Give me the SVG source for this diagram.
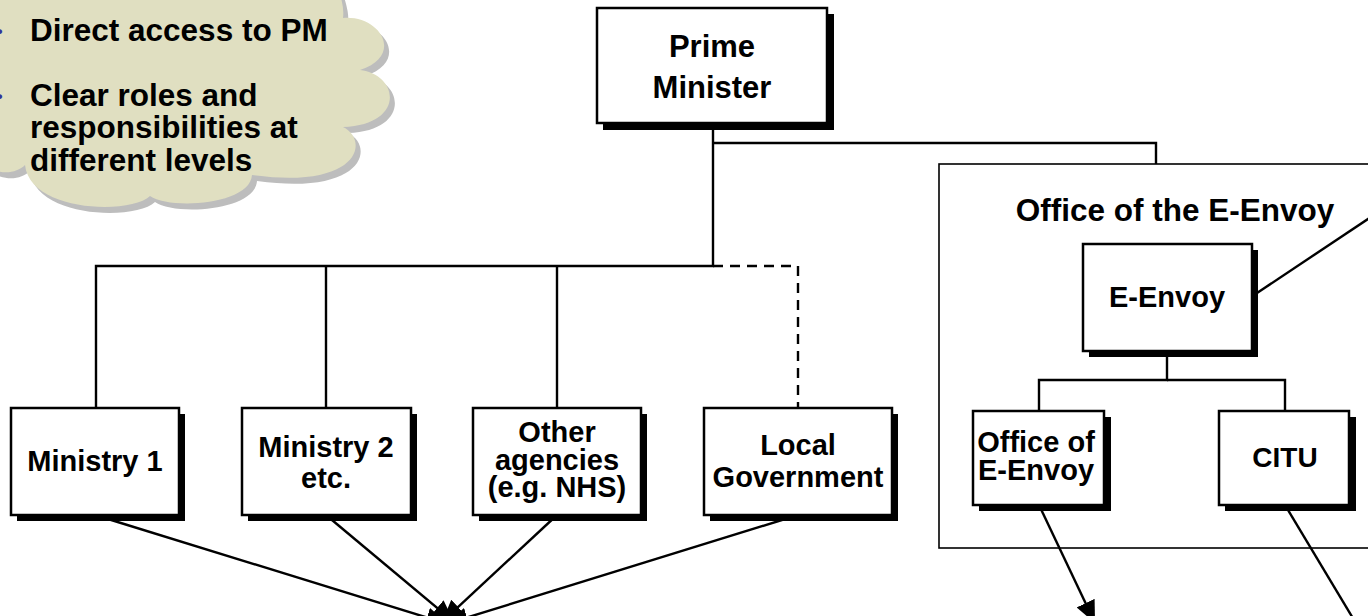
<svg xmlns="http://www.w3.org/2000/svg" width="1368" height="616" viewBox="0 0 1368 616">
<defs>
<style>
.t{font-family:"Liberation Sans",Arial,Helvetica,sans-serif;font-weight:bold;fill:#000;}
.box{fill:#fff;stroke:#000;stroke-width:2.5;}
.sh{fill:#000;}
.ln{fill:none;stroke:#000;stroke-width:2.4;}
.dash{fill:none;stroke:#000;stroke-width:2.4;stroke-dasharray:10,7;}
</style>
<marker id="ah" markerUnits="userSpaceOnUse" markerWidth="22" markerHeight="20" refX="22" refY="10" orient="auto" viewBox="0 0 22 20">
<path d="M0,0 L22,10 L0,20 z" fill="#000"/>
</marker>
</defs>
<rect width="1368" height="616" fill="#fff"/>

<g id="cloud">
<path transform="translate(5,6)" fill="#bdbdbd" d="M-40,-20 L335,-20 Q345,5 343,18 C380,15 405,55 360,70 C400,75 405,125 343,127 C370,140 360,190 252,175 C250,205 170,210 150,196 C130,215 30,212 25,165 C10,180 -30,175 -40,120 Z"/>
<path fill="#e0dfc1" d="M-40,-20 L335,-20 Q345,5 343,18 C380,15 405,55 360,70 C400,75 405,125 343,127 C370,140 360,190 252,175 C250,205 170,210 150,196 C130,215 30,212 25,165 C10,180 -30,175 -40,120 Z"/>
<text class="t" x="-3" y="37" font-size="16" style="fill:#333399">•</text>
<text class="t" x="-3" y="102" font-size="16" style="fill:#333399">•</text>
<text class="t" font-size="31.5"><tspan x="30" y="41">Direct access to PM</tspan><tspan x="30" y="106">Clear roles and</tspan><tspan x="30" y="138">responsibilities at</tspan><tspan x="30" y="171">different levels</tspan></text>
</g>

<g id="office-container">
<rect x="939" y="164" width="460" height="384" fill="none" stroke="#000" stroke-width="1.6"/>
<text class="t" x="1175" y="221" font-size="31.5" text-anchor="middle">Office of the E-Envoy</text>
</g>

<g id="connectors">
<polyline class="ln" points="713,123 713,266 96,266 96,408"/>
<line class="ln" x1="326" y1="266" x2="326" y2="408"/>
<line class="ln" x1="557" y1="266" x2="557" y2="408"/>
<polyline class="dash" points="713,266 798,266 798,408"/>
<polyline class="ln" points="713,143 1156,143 1156,164"/>
<polyline class="ln" points="1167,357 1167,380 1039,380 1039,411"/>
<polyline class="ln" points="1167,380 1285,380 1285,411"/>
<line class="ln" x1="1257" y1="293" x2="1380" y2="211"/>
<line class="ln" x1="95" y1="515" x2="448" y2="624" marker-end="url(#ah)"/>
<line class="ln" x1="326" y1="515" x2="454" y2="622" marker-end="url(#ah)"/>
<line class="ln" x1="557" y1="515" x2="442" y2="622" marker-end="url(#ah)"/>
<line class="ln" x1="798" y1="515" x2="446" y2="624" marker-end="url(#ah)"/>
<line class="ln" x1="1039" y1="505" x2="1095" y2="623" marker-end="url(#ah)"/>
<line class="ln" x1="1285" y1="505" x2="1372" y2="650"/>
</g>

<g id="node-pm">
<rect class="sh" x="603" y="14" width="231" height="116"/>
<rect class="box" x="597" y="8" width="230" height="115"/>
<text class="t" font-size="31" text-anchor="middle"><tspan x="712" y="57">Prime</tspan><tspan x="712" y="98">Minister</tspan></text>
</g>

<g id="node-ministry1">
<rect class="sh" x="17" y="414" width="168" height="107"/>
<rect class="box" x="11" y="408" width="168" height="107"/>
<text class="t" x="95" y="471" font-size="29" text-anchor="middle">Ministry 1</text>
</g>

<g id="node-ministry2">
<rect class="sh" x="248" y="414" width="169" height="107"/>
<rect class="box" x="242" y="408" width="169" height="107"/>
<text class="t" font-size="29" text-anchor="middle"><tspan x="326" y="457">Ministry 2</tspan><tspan x="326" y="488">etc.</tspan></text>
</g>

<g id="node-other">
<rect class="sh" x="479" y="414" width="168" height="107"/>
<rect class="box" x="473" y="408" width="168" height="107"/>
<text class="t" font-size="29" text-anchor="middle"><tspan x="557" y="442">Other</tspan><tspan x="557" y="470">agencies</tspan><tspan x="557" y="497">(e.g. NHS)</tspan></text>
</g>

<g id="node-local">
<rect class="sh" x="710" y="414" width="188" height="107"/>
<rect class="box" x="704" y="408" width="188" height="107"/>
<text class="t" font-size="29" text-anchor="middle"><tspan x="798" y="455">Local</tspan><tspan x="798" y="487">Government</tspan></text>
</g>

<g id="node-eenvoy">
<rect class="sh" x="1089" y="250" width="169" height="107"/>
<rect class="box" x="1083" y="244" width="169" height="107"/>
<text class="t" x="1167" y="307" font-size="29" text-anchor="middle">E-Envoy</text>
</g>

<g id="node-office-eenvoy">
<rect class="sh" x="979" y="417" width="132" height="94"/>
<rect class="box" x="973" y="411" width="131" height="94"/>
<text class="t" font-size="29" text-anchor="middle"><tspan x="1036" y="452">Office of</tspan><tspan x="1036" y="480">E-Envoy</tspan></text>
</g>

<g id="node-citu">
<rect class="sh" x="1225" y="417" width="131" height="94"/>
<rect class="box" x="1219" y="411" width="130" height="94"/>
<text class="t" x="1285" y="467" font-size="28" text-anchor="middle">CITU</text>
</g>
</svg>
